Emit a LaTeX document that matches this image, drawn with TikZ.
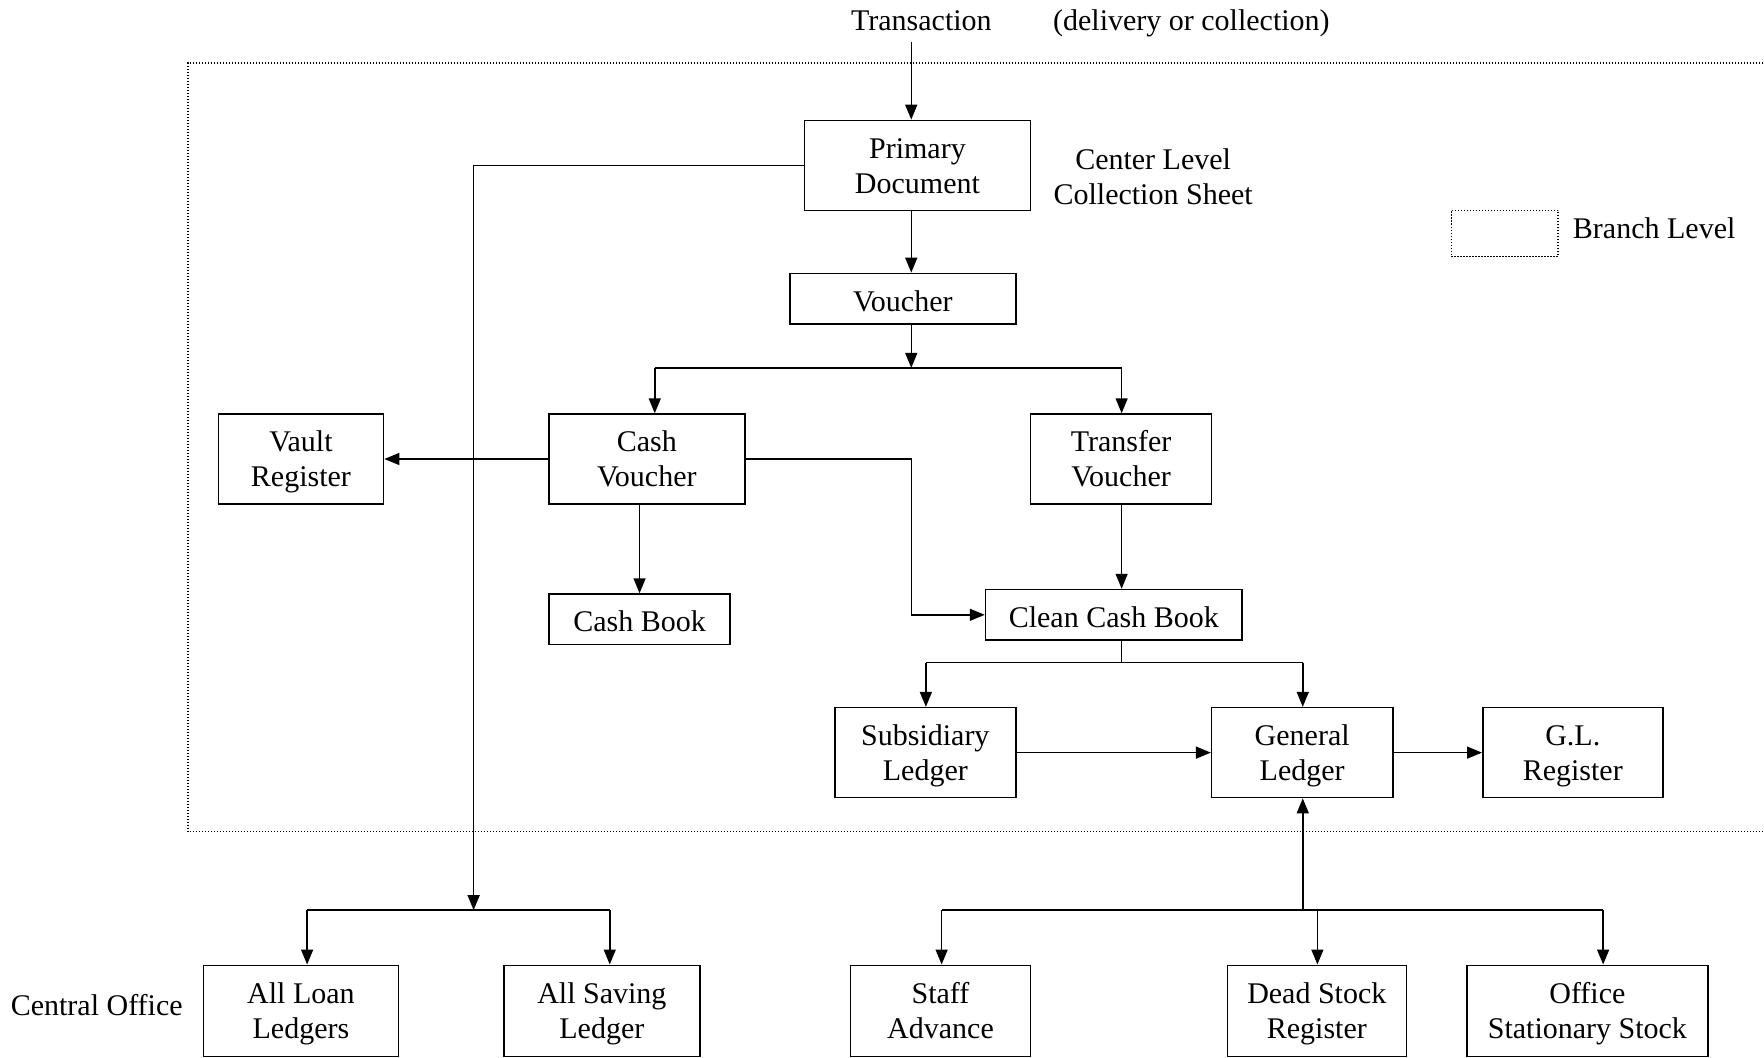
\documentclass[tikz,border=0pt]{standalone}
\usepackage{fontspec}
\setmainfont{Liberation Serif}
\usetikzlibrary{arrows.meta}
\newcommand\bx[6]{\node[box, minimum width={(#4-#2)*1.125pt}, minimum height={(#5-#3)*1.125pt}] (#1) at ({(#2+#4)/2},{(#3+#5)/2}) {#6};}
\newcommand\tsa{\rule{0pt}{31.3pt}}
\newcommand\tsb{\rule{0pt}{35.7pt}}
\begin{document}
\begin{tikzpicture}[x=1.125pt,y=-1.125pt,
  box/.style={draw, line width=1.5pt, inner sep=0pt, align=center, font=\fontsize{30}{35}\selectfont},
  lbl/.style={inner sep=0pt, align=center, font=\fontsize{30}{35}\selectfont},
  arr/.style={line width=1.5pt, -{Triangle[length=15pt,width=12pt]}},
  ln/.style={line width=1.5pt},
  dots/.style={line width=1.3pt, dash pattern=on 1.3pt off 1.7pt}]
\useasboundingbox (0,0) rectangle (1568,939.6);
% branch level frame
\draw[dots] (1570,56) -- (167,56) -- (167,739) -- (1570,739);
% legend
\node[draw, dots, minimum width={95*1.125pt}, minimum height={41*1.125pt}, inner sep=0pt] (leg) at (1337.5,207.5) {};
\node[lbl, anchor=west] (legt) at (1398,203) {Branch Level};
% texts
\node[lbl, anchor=base] (tr) at (819,27) {Transaction};
\node[lbl, anchor=base] (dc) at (1059,27) {(delivery or collection)};
\node[lbl] (cl) at (1025,157) {\tsa Center Level\\Collection Sheet\strut};
\node[lbl] (co) at (86,893) {\tsa Central Office\strut};
% boxes
\bx{prim}{715}{107}{916}{187}{\tsa Primary\\Document\strut}
\bx{vouch}{702}{243}{903}{288}{\tsb Voucher\strut}
\bx{cash}{488}{368}{662}{448}{\tsa Cash\\Voucher\strut}
\bx{trans}{916}{368}{1077}{448}{\tsa Transfer\\Voucher\strut}
\bx{vault}{194}{368}{341}{448}{\tsa Vault\\Register\strut}
\bx{cbook}{488}{528}{649}{573}{\tsb Cash Book\strut}
\bx{clean}{876}{524}{1104}{569}{\tsb Clean Cash Book\strut}
\bx{sub}{742}{629}{903}{709}{\tsa Subsidiary\\Ledger\strut}
\bx{gen}{1077}{629}{1238}{709}{\tsa General\\Ledger\strut}
\bx{glr}{1318}{629}{1478}{709}{\tsa G.L.\\Register\strut}
\bx{loan}{181}{858}{354}{939}{\tsa All Loan\\Ledgers\strut}
\bx{save}{448}{858}{622}{939}{\tsa All Saving\\Ledger\strut}
\bx{staff}{756}{858}{916}{939}{\tsa Staff\\Advance\strut}
\bx{dead}{1091}{858}{1250}{939}{\tsa Dead Stock\\Register\strut}
\bx{office}{1304}{858}{1518}{939}{\tsa Office\\Stationary Stock\strut}
% coordinates
\coordinate (t0) at (810,37);
\coordinate (b1) at (810,327);
\coordinate (b1L) at (582,327);
\coordinate (b1R) at (997,327);
\coordinate (p1) at (421,147);
\coordinate (b2) at (421,809);
\coordinate (b2L) at (273,809);
\coordinate (b2R) at (542,809);
\coordinate (c1) at (810,408);
\coordinate (b3) at (997,589);
\coordinate (b3L) at (823,589);
\coordinate (b3R) at (1158,589);
\coordinate (b4) at (1158,809);
\coordinate (b4L) at (837,809);
\coordinate (b4M) at (1171,809);
\coordinate (b4R) at (1425,809);
% connectors
\draw[arr] (t0) -- (t0 |- prim.north);
\draw[arr] (prim.south -| t0) -- (vouch.north -| t0);
\draw[arr] (vouch.south -| b1) -- (b1);
\draw[ln] (b1L) -- (b1R);
\draw[arr] (b1L) -- (b1L |- cash.north);
\draw[arr] (b1R) -- (b1R |- trans.north);
\draw[arr] (cash.west) -- (vault.east);
\draw[arr] (prim.west |- p1) -- (p1) -- (b2);
\draw[ln] (b2L) -- (b2R);
\draw[arr] (b2L) -- (b2L |- loan.north);
\draw[arr] (b2R) -- (b2R |- save.north);
\draw[arr] (cbook.north |- cash.south) -- (cbook.north);
\draw[arr] (cash.east) -- (c1) |- (clean.west);
\draw[arr] (b1R |- trans.south) -- (b1R |- clean.north);
\draw[ln] (b3 |- clean.south) -- (b3);
\draw[ln] (b3L) -- (b3R);
\draw[arr] (b3L) -- (b3L |- sub.north);
\draw[arr] (b3R) -- (b3R |- gen.north);
\draw[arr] (sub.east) -- (gen.west);
\draw[arr] (gen.east) -- (glr.west);
\draw[arr] (b4) -- (b4 |- gen.south);
\draw[ln] (b4L) -- (b4R);
\draw[arr] (b4L) -- (b4L |- staff.north);
\draw[arr] (b4M) -- (b4M |- dead.north);
\draw[arr] (b4R) -- (b4R |- office.north);
\end{tikzpicture}
\end{document}
